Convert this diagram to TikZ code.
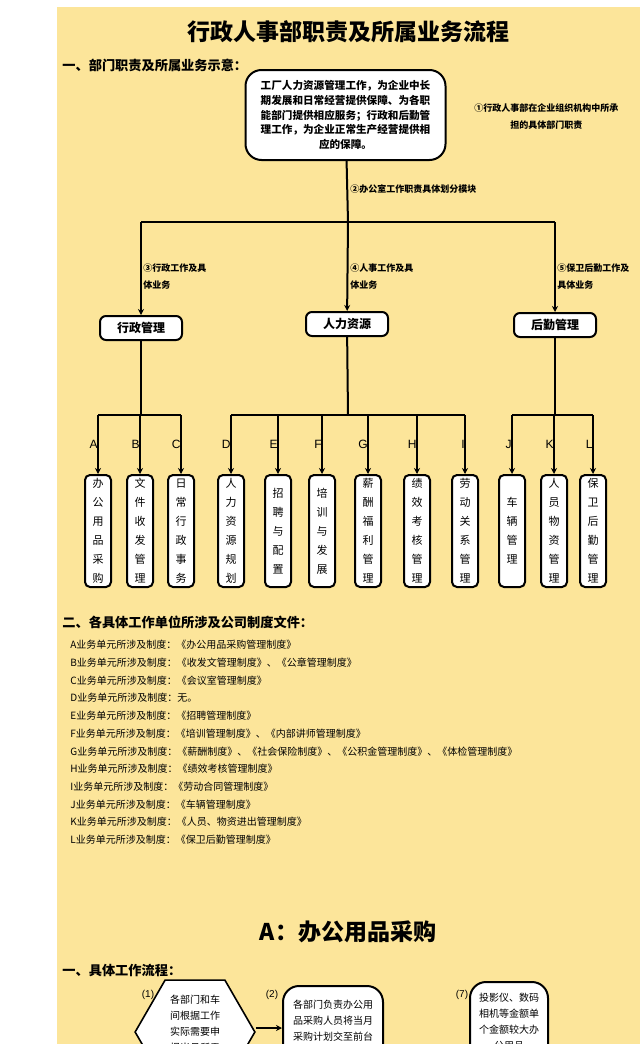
\documentclass[tikz,border=0pt]{standalone}
\usepackage{fontspec}
\setmainfont{Liberation Sans}
\newfontfamily\cjk{Noto Sans CJK SC}
\usetikzlibrary{positioning, calc, arrows.meta, shapes}
\definecolor{paper}{HTML}{FCE59A}

\begin{document}
\begin{tikzpicture}[x=0.5pt, y=-0.5pt, font=\cjk]

\tikzset{
dept/.style = {rectangle, draw, rounded corners = 3pt, line width = 1pt, fill = white,
	minimum width = 41pt, minimum height = 12pt, inner sep = 1pt, font = \cjk\bfseries\fontsize{6}{7}\selectfont},
leaf/.style = {rectangle, draw, rounded corners = 2.5pt, line width = 1pt, fill = white,
	minimum width = 13pt, inner sep = 1pt, align = center, anchor = north,
	font = \cjk\fontsize{5.5}{9.5}\selectfont},
branch/.style = {line width = 1pt, -{Stealth[length = 3pt, width = 3pt]}},
trunk/.style = {line width = 1pt},
note/.style = {anchor = west, inner sep = 0pt, align = left, font = \cjk\bfseries\fontsize{4.5}{8.5}\selectfont},
letter/.style = {anchor = east, inner sep = 0pt, font = \fontsize{6}{7}\selectfont},
rule/.style = {anchor = west, inner sep = 0pt, font = \cjk\fontsize{5}{6}\selectfont},
heading/.style = {anchor = west, inner sep = 0pt, font = \cjk\bfseries\fontsize{6.6}{8}\selectfont},
}

%% Background
\useasboundingbox (0,0) rectangle (640,1044);
\clip (0,0) rectangle (640,1044);
\fill [white] (0,0) rectangle (640,1044);
\fill [paper] (57,7) rectangle (640,1044);

%% Titles
\node (title) at (348,32) [font = \cjk\bfseries\fontsize{11.5}{13}\selectfont] {行政人事部职责及所属业务流程};
\node (head1) at (62,65) [heading] {一、部门职责及所属业务示意：};

%% Top box
\node (duty) at (345.5,115) [draw, rounded corners = 8pt, line width = 1pt, fill = white,
	minimum width = 100pt, minimum height = 45pt, align = center, inner sep = 2pt,
	font = \cjk\bfseries\fontsize{5.3}{7.3}\selectfont]
	{工厂人力资源管理工作，为企业中长\\期发展和日常经营提供保障、为各职\\能部门提供相应服务；行政和后勤管\\理工作，为企业正常生产经营提供相\\应的保障。};
\node (note1) at (474,103) [note, align = center, anchor = north west] {①行政人事部在企业组织机构中所承\\担的具体部门职责};

%% Departments
\node (admin) at (141,328) [dept] {行政管理};
\node (hr) at (347,324) [dept] {人力资源};
\node (logi) at (555,325) [dept] {后勤管理};

\coordinate (split) at (348,222);
\draw [trunk] (duty) -- (split);
\node (note2) at (350,189) [note] {②办公室工作职责具体划分模块};
\draw [trunk] (141,222) -- (555,222);
\draw [branch] (141,222) -- (admin);
\draw [branch] (split) -- (hr);
\draw [branch] (555,222) -- (logi);
\node (note3) at (143,263) [note, anchor = north west] {③行政工作及具\\体业务};
\node (note4) at (350,263) [note, anchor = north west] {④人事工作及具\\体业务};
\node (note5) at (557,263) [note, anchor = north west] {⑤保卫后勤工作及\\具体业务};

%% Leaves
\foreach \x/\l/\t [count = \i] in {
	98/A/办\\公\\用\\品\\采\\购, 140/B/文\\件\\收\\发\\管\\理, 181/C/日\\常\\行\\政\\事\\务,
	231/D/人\\力\\资\\源\\规\\划, 278/E/招\\聘\\与\\配\\置, 322/F/培\\训\\与\\发\\展,
	368/G/薪\\酬\\福\\利\\管\\理, 417/H/绩\\效\\考\\核\\管\\理, 465/I/劳\\动\\关\\系\\管\\理,
	512/J/车\\辆\\管\\理, 554/K/人\\员\\物\\资\\管\\理, 593/L/保\\卫\\后\\勤\\管\\理}
{
	\node (leaf\i) at (\x,474) [leaf, minimum height = 56pt] {\t};
	\node (let\i) at (\x,444) [letter] {\l};
	\draw [branch] (\x,415) -- (leaf\i);
}
\draw [trunk] (admin) -- (141,415);
\draw [trunk] (hr) -- (348,415);
\draw [trunk] (logi) -- (555,415);
\draw [trunk] (98,415) -- (181,415);
\draw [trunk] (231,415) -- (465,415);
\draw [trunk] (512,415) -- (593,415);

%% Rules
\node (head2) at (62,622) [heading] {二、各具体工作单位所涉及公司制度文件：};
\foreach \t [count = \i] in {
	A业务单元所涉及制度：《办公用品采购管理制度》,
	B业务单元所涉及制度：《收发文管理制度》、《公章管理制度》,
	C业务单元所涉及制度：《会议室管理制度》,
	D业务单元所涉及制度：无。,
	E业务单元所涉及制度：《招聘管理制度》,
	F业务单元所涉及制度：《培训管理制度》、《内部讲师管理制度》,
	G业务单元所涉及制度：《薪酬制度》、《社会保险制度》、《公积金管理制度》、《体检管理制度》,
	H业务单元所涉及制度：《绩效考核管理制度》,
	I业务单元所涉及制度：《劳动合同管理制度》,
	J业务单元所涉及制度：《车辆管理制度》,
	K业务单元所涉及制度：《人员、物资进出管理制度》,
	L业务单元所涉及制度：《保卫后勤管理制度》}
{
	\node (rule\i) at (70,{645+17.7*(\i-1)}) [rule] {\t};
}

%% Section A
\node (titleA) at (348,932) [font = \cjk\bfseries\fontsize{11.5}{13}\selectfont] {A：办公用品采购};
\node (head3) at (62,970) [heading] {一、具体工作流程：};

\node (step1) at (195,1032) [draw, line width = 0.8pt, fill = white, regular polygon, regular polygon sides = 6,
	minimum size = 54pt, inner sep = 0pt, align = center, font = \cjk\fontsize{5}{8}\selectfont]
	{各部门和车\\间根据工作\\实际需要申\\报当月所需\\办公用品};
\node (step2) at (333,985) [draw, rounded corners = 8pt, line width = 1pt, fill = white,
	minimum width = 50pt, minimum height = 46pt, align = center, inner sep = 1pt,
	font = \cjk\fontsize{5}{8}\selectfont, anchor = north]
	{ \\各部门负责办公用\\品采购人员将当月\\采购计划交至前台\\ \\ };
\node (step7) at (509,981) [draw, rounded corners = 8pt, line width = 1pt, fill = white,
	minimum width = 39pt, minimum height = 40pt, align = center, inner sep = 1pt,
	font = \cjk\fontsize{5}{8}\selectfont, anchor = north]
	{投影仪、数码\\相机等金额单\\个金额较大办\\公用品};
\draw [branch] (step1.east |- 0,1028) -- (step2.west |- 0,1028);
\node (num1) at (148,995) [font = \fontsize{5}{6}\selectfont] {(1)};
\node (num2) at (272,995) [font = \fontsize{5}{6}\selectfont] {(2)};
\node (num7) at (462,995) [font = \fontsize{5}{6}\selectfont] {(7)};

\end{tikzpicture}
\end{document}
